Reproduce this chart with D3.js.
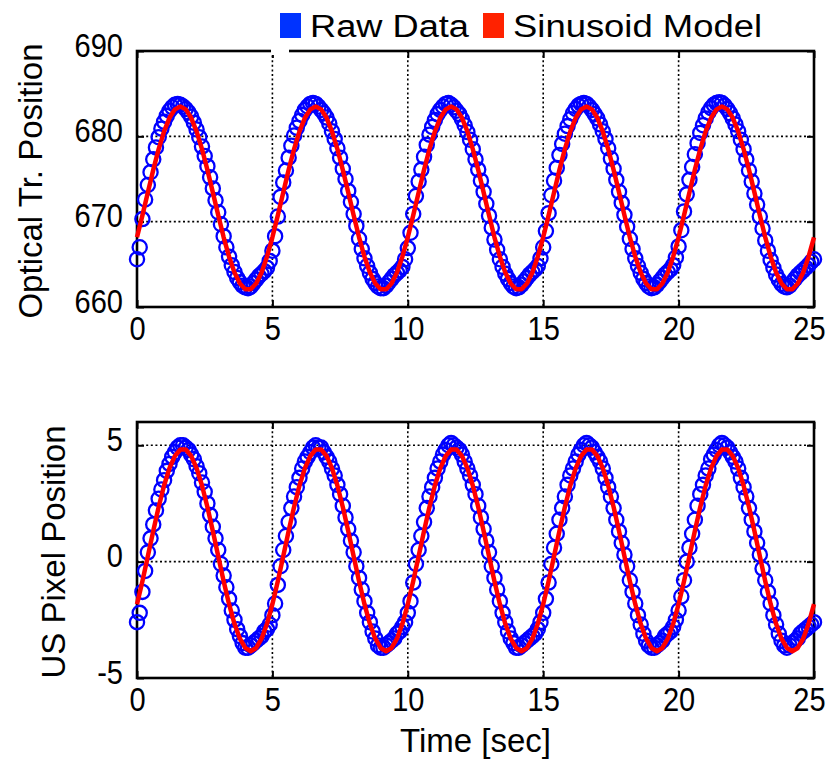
<!DOCTYPE html>
<html lang="en">

<head>
  <meta charset="utf-8">
  <title>Optical vs US position</title>
  <script type="text/javascript" src="https://d3js.org/d3.v7.min.js"></script>
  <style type="text/css">
    body { margin: 0; background: #fff; }
    text { font-family: Arial, "Liberation Sans", sans-serif; fill: #000; }
  </style>
</head>

<body>
  <script type="text/javascript">
    // sample spacing of the raw frames and of the fitted model
    var rawStep = 0.1;
    var modelStep = 0.2;

    var xTicks = [0, 5, 10, 15, 20, 25];
    var topTicks = [660, 670, 680, 690];
    var bottomTicks = [-5, 0, 5];
    var legendLabels = ["Raw Data", "Sinusoid Model"];

    var opticalRaw = [
      665.6, 667.0, 670.3, 672.6, 674.3, 675.8, 677.3, 678.7, 679.9, 680.9,
      681.7, 682.4, 683.0, 683.4, 683.7, 683.8, 683.7, 683.5, 683.2, 682.8,
      682.3, 681.6, 680.8, 679.9, 678.8, 677.7, 676.5, 675.2, 673.9, 672.5,
      671.1, 669.7, 668.3, 667.0, 665.9, 664.9, 664.1, 663.4, 662.9, 662.5,
      662.3, 662.2, 662.4, 662.8, 663.2, 663.6, 663.9, 664.2, 664.6, 665.4,

      666.6, 668.3, 670.6, 672.9, 674.6, 676.0, 677.5, 678.9, 680.1, 681.0,
      681.8, 682.5, 683.1, 683.5, 683.8, 683.9, 683.8, 683.5, 683.1, 682.7,
      682.2, 681.5, 680.6, 679.7, 678.6, 677.5, 676.2, 675.0, 673.6, 672.3,
      670.9, 669.5, 668.0, 666.8, 665.7, 664.8, 664.0, 663.3, 662.8, 662.4,
      662.2, 662.2, 662.5, 662.9, 663.3, 663.7, 664.0, 664.3, 664.7, 665.6,

      666.9, 668.7, 670.9, 673.0, 674.7, 676.1, 677.6, 679.0, 680.2, 681.1,
      681.9, 682.6, 683.1, 683.5, 683.8, 683.9, 683.7, 683.4, 683.0, 682.6,
      682.0, 681.3, 680.5, 679.6, 678.5, 677.3, 676.1, 674.8, 673.5, 672.1,
      670.7, 669.3, 667.9, 666.7, 665.6, 664.7, 663.9, 663.3, 662.8, 662.4,
      662.2, 662.3, 662.6, 663.0, 663.4, 663.8, 664.1, 664.4, 664.8, 665.7,

      667.0, 668.9, 671.0, 673.1, 674.8, 676.3, 677.8, 679.1, 680.3, 681.2,
      682.0, 682.7, 683.2, 683.6, 683.8, 683.9, 683.8, 683.5, 683.1, 682.6,
      682.1, 681.4, 680.6, 679.7, 678.6, 677.4, 676.2, 674.9, 673.5, 672.2,
      670.8, 669.4, 668.0, 666.8, 665.7, 664.8, 664.0, 663.3, 662.8, 662.4,
      662.2, 662.3, 662.6, 663.0, 663.4, 663.8, 664.1, 664.4, 664.9, 665.8,

      667.1, 669.0, 671.2, 673.2, 674.9, 676.4, 677.9, 679.2, 680.4, 681.3,
      682.1, 682.8, 683.3, 683.7, 683.9, 684.0, 683.9, 683.6, 683.2, 682.7,
      682.1, 681.4, 680.6, 679.6, 678.5, 677.3, 676.0, 674.7, 673.3, 672.0,
      670.6, 669.2, 667.8, 666.6, 665.5, 664.6, 663.8, 663.2, 662.7, 662.4,
      662.3, 662.5, 662.9, 663.3, 663.7, 664.0, 664.3, 664.6, 664.9, 665.3,
      665.6
    ];

    var usRaw = [
      -2.6, -2.2, -1.3, -0.4, 0.4, 1.0, 1.6, 2.2, 2.7, 3.1,
      3.5, 3.9, 4.2, 4.5, 4.7, 4.9, 5.0, 5.0, 4.9, 4.8,
      4.6, 4.4, 4.1, 3.8, 3.4, 3.0, 2.5, 2.0, 1.5, 1.0,
      0.5, -0.1, -0.6, -1.1, -1.6, -2.1, -2.5, -2.9, -3.2, -3.5,
      -3.7, -3.7, -3.6, -3.5, -3.4, -3.3, -3.2, -3.0, -2.9, -2.7,

      -2.3, -1.8, -1.0, -0.2, 0.5, 1.1, 1.7, 2.3, 2.8, 3.2,
      3.6, 4.0, 4.3, 4.5, 4.7, 4.9, 5.0, 4.9, 4.9, 4.7,
      4.5, 4.3, 4.0, 3.7, 3.3, 2.9, 2.4, 1.9, 1.4, 0.9,
      0.4, -0.2, -0.7, -1.2, -1.7, -2.2, -2.6, -3.0, -3.3, -3.6,
      -3.7, -3.7, -3.6, -3.5, -3.4, -3.3, -3.1, -3.0, -2.8, -2.6,

      -2.2, -1.7, -0.9, -0.1, 0.5, 1.1, 1.7, 2.3, 2.8, 3.2,
      3.6, 4.0, 4.3, 4.6, 4.8, 5.0, 5.1, 5.0, 4.9, 4.8,
      4.6, 4.3, 4.0, 3.7, 3.3, 2.9, 2.4, 1.9, 1.4, 0.9,
      0.4, -0.2, -0.7, -1.2, -1.7, -2.2, -2.6, -3.0, -3.3, -3.5,
      -3.7, -3.7, -3.6, -3.5, -3.4, -3.3, -3.2, -3.1, -2.9, -2.6,

      -2.2, -1.6, -0.9, -0.1, 0.6, 1.2, 1.8, 2.3, 2.8, 3.3,
      3.7, 4.0, 4.3, 4.6, 4.8, 5.0, 5.1, 5.0, 4.9, 4.7,
      4.5, 4.3, 4.0, 3.6, 3.2, 2.8, 2.3, 1.8, 1.3, 0.8,
      0.3, -0.2, -0.8, -1.3, -1.8, -2.3, -2.7, -3.1, -3.4, -3.6,
      -3.7, -3.7, -3.6, -3.5, -3.4, -3.2, -3.1, -3.0, -2.8, -2.5,

      -2.1, -1.5, -0.8, 0.0, 0.6, 1.2, 1.8, 2.4, 2.9, 3.3,
      3.7, 4.0, 4.4, 4.6, 4.8, 5.0, 5.1, 5.0, 4.9, 4.7,
      4.5, 4.3, 4.0, 3.6, 3.2, 2.8, 2.3, 1.8, 1.3, 0.8,
      0.3, -0.3, -0.8, -1.3, -1.8, -2.3, -2.7, -3.1, -3.4, -3.6,
      -3.7, -3.6, -3.5, -3.4, -3.3, -3.1, -3.0, -2.9, -2.8, -2.7,
      -2.6
    ];

    var opticalModel = [
      668.17, 670.74, 673.43, 676.07, 678.51, 680.59, 682.17, 683.16, 683.50, 683.16, 682.17, 680.59, 678.51,
      676.07, 673.43, 670.74, 668.17, 665.90, 664.05, 662.75, 662.08, 662.08, 662.75, 664.05, 665.90,
      668.17, 670.74, 673.43, 676.07, 678.51, 680.59, 682.17, 683.16, 683.50, 683.16, 682.17, 680.59, 678.51,
      676.07, 673.43, 670.74, 668.17, 665.90, 664.05, 662.75, 662.08, 662.08, 662.75, 664.05, 665.90,
      668.17, 670.74, 673.43, 676.07, 678.51, 680.59, 682.17, 683.16, 683.50, 683.16, 682.17, 680.59, 678.51,
      676.07, 673.43, 670.74, 668.17, 665.90, 664.05, 662.75, 662.08, 662.08, 662.75, 664.05, 665.90,
      668.17, 670.74, 673.43, 676.07, 678.51, 680.59, 682.17, 683.16, 683.50, 683.16, 682.17, 680.59, 678.51,
      676.07, 673.43, 670.74, 668.17, 665.90, 664.05, 662.75, 662.08, 662.08, 662.75, 664.05, 665.90,
      668.17, 670.74, 673.43, 676.07, 678.51, 680.59, 682.17, 683.16, 683.50, 683.16, 682.17, 680.59, 678.51,
      676.07, 673.43, 670.74, 668.17, 665.90, 664.05, 662.75, 662.08, 662.08, 662.75, 664.05, 665.90,
      668.17
    ];

    var usModel = [
      -1.83, -0.84, 0.23, 1.32, 2.35, 3.27, 4.02, 4.54, 4.82, 4.82, 4.54, 4.02, 3.27,
      2.35, 1.32, 0.23, -0.84, -1.83, -2.67, -3.31, -3.71, -3.85, -3.71, -3.31, -2.67,
      -1.83, -0.84, 0.23, 1.32, 2.35, 3.27, 4.02, 4.54, 4.82, 4.82, 4.54, 4.02, 3.27,
      2.35, 1.32, 0.23, -0.84, -1.83, -2.67, -3.31, -3.71, -3.85, -3.71, -3.31, -2.67,
      -1.83, -0.84, 0.23, 1.32, 2.35, 3.27, 4.02, 4.54, 4.82, 4.82, 4.54, 4.02, 3.27,
      2.35, 1.32, 0.23, -0.84, -1.83, -2.67, -3.31, -3.71, -3.85, -3.71, -3.31, -2.67,
      -1.83, -0.84, 0.23, 1.32, 2.35, 3.27, 4.02, 4.54, 4.82, 4.82, 4.54, 4.02, 3.27,
      2.35, 1.32, 0.23, -0.84, -1.83, -2.67, -3.31, -3.71, -3.85, -3.71, -3.31, -2.67,
      -1.83, -0.84, 0.23, 1.32, 2.35, 3.27, 4.02, 4.54, 4.82, 4.82, 4.54, 4.02, 3.27,
      2.35, 1.32, 0.23, -0.84, -1.83, -2.67, -3.31, -3.71, -3.85, -3.71, -3.31, -2.67,
      -1.83
    ];

    var width = 831, height = 761;
    var left = 137, right = 814;

    var svg = d3.select("body")
      .append("svg")
      .attr("width", width)
      .attr("height", height);

    svg.append("rect")
      .attr("width", width)
      .attr("height", height)
      .attr("fill", "#fff");

    var x = d3.scaleLinear().domain([0, 25]).range([left, right]);

    function plain(d) {
      return String(d);
    }

    function drawPanel(opts) {
      var y = d3.scaleLinear().domain(opts.domain).range([opts.bottom, opts.top]);
      var g = svg.append("g");

      // dotted grid
      g.selectAll(".gx")
        .data(xTicks.slice(1, -1))
        .enter().append("line")
        .attr("x1", function(d) { return x(d); })
        .attr("x2", function(d) { return x(d); })
        .attr("y1", opts.top)
        .attr("y2", opts.bottom)
        .attr("stroke", "#000")
        .attr("stroke-width", 1.6)
        .attr("stroke-dasharray", "2,2.6");

      g.selectAll(".gy")
        .data(opts.ticks.filter(function(d) { return y(d) > opts.top + 2 && y(d) < opts.bottom - 2; }))
        .enter().append("line")
        .attr("x1", left)
        .attr("x2", right)
        .attr("y1", function(d) { return y(d); })
        .attr("y2", function(d) { return y(d); })
        .attr("stroke", "#000")
        .attr("stroke-width", 1.6)
        .attr("stroke-dasharray", "2,2.6");

      // axes, ticks pointing inward on all four sides
      var axB = g.append("g")
        .attr("transform", "translate(0," + opts.bottom + ")")
        .call(d3.axisBottom(x).tickValues(xTicks).tickFormat(plain).tickSize(-7).tickPadding(10));
      g.append("g")
        .attr("transform", "translate(0," + opts.top + ")")
        .call(d3.axisTop(x).tickValues(xTicks).tickSize(-7).tickFormat(""));
      var axL = g.append("g")
        .attr("transform", "translate(" + left + ",0)")
        .call(d3.axisLeft(y).tickValues(opts.ticks).tickFormat(plain).tickSize(-7).tickPadding(14));
      g.append("g")
        .attr("transform", "translate(" + right + ",0)")
        .call(d3.axisRight(y).tickValues(opts.ticks).tickSize(-7).tickFormat(""));

      g.selectAll(".domain").remove();
      g.selectAll(".tick line").attr("stroke", "#000").attr("stroke-width", 2);
      g.selectAll(".tick text")
        .attr("font-size", 33)
        .attr("font-family", "Arial, 'Liberation Sans', sans-serif")
        .attr("fill", "#000");
      axL.selectAll(".tick text").attr("dy", 5);
      axB.selectAll(".tick text").attr("dy", "0.71em");
      // keep the last label inside the page
      axB.selectAll(".tick text")
        .attr("x", function(d) { return d === 25 ? -5 : 0; });
      g.selectAll(".tick text").each(function() {
        var w = this.getComputedTextLength();
        d3.select(this).attr("textLength", w * 0.88).attr("lengthAdjust", "spacingAndGlyphs");
      });

      g.append("rect")
        .attr("x", left)
        .attr("y", opts.top)
        .attr("width", right - left)
        .attr("height", opts.bottom - opts.top)
        .attr("fill", "none")
        .attr("stroke", "#000")
        .attr("stroke-width", 2.6);

      // raw samples
      g.selectAll(".raw")
        .data(opts.raw)
        .enter().append("circle")
        .attr("cx", function(d, i) { return x(i * rawStep); })
        .attr("cy", function(d) { return y(d); })
        .attr("r", 7.1)
        .attr("fill", "none")
        .attr("stroke", "#0000ff")
        .attr("stroke-width", 2.3);

      // fitted model
      var line = d3.line()
        .x(function(d, i) { return x(i * modelStep); })
        .y(function(d) { return y(d); });

      g.append("path")
        .datum(opts.model)
        .attr("d", line)
        .attr("fill", "none")
        .attr("stroke", "#ff0000")
        .attr("stroke-width", 4.5)
        .attr("stroke-linejoin", "round");

      g.append("text")
        .attr("transform", "translate(" + opts.labelX + "," + ((opts.top + opts.bottom) / 2 + 2) + ") rotate(-90)")
        .attr("text-anchor", "middle")
        .attr("font-size", 33)
        .text(opts.label);
    }

    drawPanel({
      domain: [660, 690], top: 51, bottom: 307, ticks: topTicks,
      raw: opticalRaw, model: opticalModel,
      label: "Optical Tr. Position", labelX: 42
    });

    drawPanel({
      domain: [-5, 6], top: 422, bottom: 678, ticks: bottomTicks,
      raw: usRaw, model: usModel,
      label: "US Pixel Position", labelX: 65
    });

    svg.append("text")
      .attr("x", (left + right) / 2)
      .attr("y", 752)
      .attr("text-anchor", "middle")
      .attr("font-size", 33)
      .text("Time [sec]");

    // legend (its box cuts a small notch out of the top border)
    svg.append("rect")
      .attr("x", 271).attr("y", 46)
      .attr("width", 18).attr("height", 9)
      .attr("fill", "#fff");

    var legendColors = ["#0033ff", "#ff2200"];
    var legendX = [280, 483];
    var legendW = [159, 249];

    legendLabels.forEach(function(name, i) {
      svg.append("rect")
        .attr("x", legendX[i])
        .attr("y", 13)
        .attr("width", 21)
        .attr("height", 25)
        .attr("fill", legendColors[i]);
      svg.append("text")
        .attr("x", legendX[i] + 30)
        .attr("y", 37)
        .attr("font-size", 31)
        .attr("textLength", legendW[i])
        .attr("lengthAdjust", "spacingAndGlyphs")
        .text(name);
    });
  </script>
</body>

</html>
